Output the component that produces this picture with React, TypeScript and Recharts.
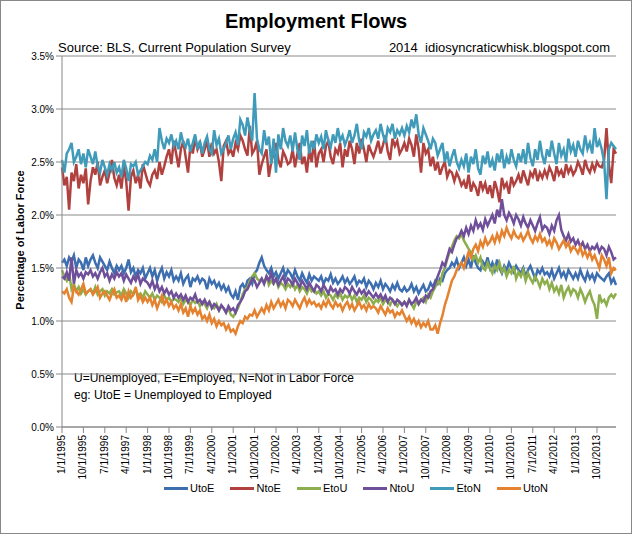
import React from "react";
import { LineChart, Line, XAxis, YAxis, CartesianGrid } from "recharts";

// values in hundredths of a percent of the labor force, monthly from Jan 1995
const UtoE = [
  155,158,152,160,156,162,150,158,155,148,160,152,
  158,162,155,150,160,156,152,148,156,150,145,152,
  148,152,145,150,158,146,150,142,148,145,150,140,
  145,150,142,148,138,145,150,140,146,142,148,138,
  142,138,145,135,140,143,132,140,138,142,136,140,
  138,130,140,135,138,132,136,130,134,128,132,125,
  122,128,120,132,135,130,138,140,135,145,148,155,
  160,152,148,145,150,142,146,140,145,150,142,148,
  145,140,148,142,138,145,140,136,144,138,142,140,
  138,142,135,140,138,144,136,140,135,138,142,136,
  140,135,138,142,134,138,136,140,132,138,135,130,
  136,132,138,130,135,132,128,134,130,136,130,128,
  132,128,130,135,128,132,126,130,134,128,130,136,
  132,138,135,140,138,145,148,150,155,152,158,150,
  155,160,152,158,150,162,155,150,148,156,152,160,
  150,155,148,158,150,145,152,148,155,150,146,152,
  148,145,150,142,148,152,146,140,148,145,150,144,
  146,142,148,140,145,150,142,146,140,148,144,140,
  145,140,148,142,138,146,140,144,138,145,142,140,
  138,142,145,136,140,134,
];
const NtoE = [
  245,228,236,205,240,232,248,225,238,230,244,210,
  232,245,238,250,228,236,242,230,240,252,235,228,
  238,225,246,232,204,236,242,230,238,225,248,240,
  232,228,238,242,234,250,238,246,255,262,248,270,
  258,245,262,270,255,240,266,258,272,262,268,255,
  262,270,255,268,258,262,250,232,265,270,258,262,
  255,268,262,275,270,262,256,284,258,262,270,238,
  248,255,262,236,250,258,268,252,245,260,255,248,
  250,262,245,258,268,248,255,240,262,250,270,245,
  258,262,250,265,270,255,248,262,258,268,245,262,
  255,270,262,248,268,258,272,262,250,266,260,255,
  262,270,258,266,275,260,252,272,265,270,258,262,
  268,260,272,266,255,276,262,240,268,258,262,246,
  255,242,250,238,245,250,236,242,240,232,240,235,
  228,232,225,238,222,230,226,218,232,224,230,220,
  228,216,232,224,212,235,226,230,220,236,228,232,
  238,230,242,235,228,240,236,244,232,240,235,242,
  236,245,240,232,246,238,242,235,248,240,245,238,
  242,250,245,238,252,244,240,248,242,250,246,245,
  252,282,248,230,262,258,
];
const EtoU = [
  148,142,138,145,130,135,128,132,126,130,125,128,
  130,126,132,125,128,130,124,128,126,130,125,127,
  128,124,130,126,122,128,125,130,124,126,122,128,
  125,122,126,120,124,122,118,124,120,122,118,121,
  120,118,122,116,120,118,115,120,117,119,114,118,
  116,112,118,114,112,116,110,114,112,108,112,106,
  104,108,112,118,125,130,132,138,142,145,140,138,
  140,136,142,134,138,135,140,132,136,134,130,135,
  132,136,130,134,128,132,130,126,132,128,130,126,
  128,124,128,122,126,124,120,125,122,126,120,124,
  122,125,120,124,118,122,120,124,118,122,120,116,
  120,118,122,116,120,118,115,120,117,114,118,115,
  118,115,120,116,112,118,116,120,122,118,125,122,
  128,132,138,135,145,150,158,165,170,176,180,178,
  182,176,172,168,165,158,162,155,160,150,148,155,
  150,145,152,148,155,146,150,142,148,145,152,140,
  146,142,148,138,145,140,136,142,138,132,140,135,
  138,130,136,128,132,126,134,122,128,132,125,130,
  128,122,130,125,118,124,128,120,115,102,125,118,
  120,115,122,125,122,126,
];
const NtoU = [
  142,140,146,138,160,135,148,142,145,140,146,144,
  148,142,145,140,146,150,142,145,138,144,140,146,
  142,145,138,144,140,136,142,138,144,135,140,138,
  136,132,138,130,135,128,132,126,130,125,128,122,
  126,122,125,120,124,118,122,120,125,118,120,116,
  120,115,118,112,116,114,110,115,112,108,114,110,
  112,108,115,118,122,128,130,135,140,138,132,136,
  140,135,142,138,145,136,140,134,138,142,135,140,
  138,134,140,136,132,138,134,130,136,132,128,134,
  132,128,134,130,126,132,128,130,125,130,127,132,
  130,126,132,128,125,130,126,129,124,128,125,122,
  126,122,125,120,124,118,122,120,116,120,118,115,
  118,114,120,116,118,122,116,120,118,124,122,128,
  130,136,142,148,155,152,160,168,165,172,178,180,
  185,180,188,182,190,185,195,188,192,186,196,190,
  195,200,192,205,198,215,200,195,202,198,192,200,
  196,190,198,192,188,195,190,185,192,198,186,190,
  188,182,190,185,195,200,186,180,176,182,175,178,
  172,176,170,174,168,172,166,170,168,172,165,170,
  168,162,170,165,158,160,
];
const EtoN = [
  252,240,258,262,268,250,255,262,248,258,245,262,
  255,248,260,246,240,252,245,238,248,242,250,240,
  245,236,252,244,232,248,246,250,238,242,246,250,
  248,256,252,262,250,282,270,262,272,268,276,265,
  270,262,278,268,264,272,260,268,276,262,270,258,
  268,274,262,258,280,266,272,258,262,268,275,262,
  272,278,266,290,285,275,292,280,270,315,272,262,
  258,280,266,274,248,272,240,276,262,282,270,265,
  275,260,278,262,252,275,265,280,258,270,262,276,
  268,274,262,280,270,264,276,268,282,270,275,266,
  272,280,268,275,286,270,262,278,274,282,270,276,
  280,272,286,276,268,282,278,286,272,280,276,282,
  275,284,278,290,282,295,276,268,282,276,270,262,
  272,268,256,262,268,250,260,246,255,262,250,244,
  252,246,258,240,255,248,262,244,238,256,248,260,
  245,252,242,258,250,262,244,255,248,262,252,246,
  258,250,262,248,268,254,246,262,252,270,256,248,
  262,255,270,258,248,268,256,262,250,272,260,266,
  255,270,262,258,275,262,268,258,282,264,270,262,
  250,215,262,268,265,262,
];
const UtoN = [
  128,126,130,122,118,132,128,125,130,135,126,128,
  130,125,128,132,122,126,128,124,120,126,130,122,
  124,120,126,118,128,122,125,132,120,124,118,122,
  118,122,115,120,112,118,124,116,120,114,118,112,
  115,110,116,108,112,104,114,108,112,106,110,102,
  105,100,106,98,102,95,100,96,98,92,96,90,
  92,88,95,100,98,104,102,106,105,110,104,108,
  112,108,115,110,118,112,116,120,114,118,112,120,
  118,114,120,116,112,118,122,115,120,116,118,114,
  116,112,118,114,120,115,112,118,114,116,110,115,
  118,112,116,110,114,118,112,115,110,116,112,114,
  112,108,114,110,106,112,108,110,104,108,106,110,
  105,100,104,98,102,96,100,94,98,95,100,92,
  92,96,88,98,105,115,122,130,138,142,148,152,
  155,150,158,165,160,168,172,166,175,170,178,172,
  175,180,174,182,176,185,180,188,182,178,185,180,
  178,182,176,180,185,178,174,180,176,182,175,178,
  172,176,170,178,174,168,172,176,170,174,166,170,
  168,164,170,162,166,160,165,158,162,156,150,162,
  158,152,160,145,150,148,
];
const yTicks = [0, 0.5, 1, 1.5, 2, 2.5, 3, 3.5];

const SERIES = [
  { key: "UtoE", color: "#3d6eb0" },
  { key: "NtoE", color: "#b0413e" },
  { key: "EtoU", color: "#8dae4c" },
  { key: "NtoU", color: "#6f4f9a" },
  { key: "EtoN", color: "#3f9bb9" },
  { key: "UtoN", color: "#e5822f" },
];

const data = UtoE.map((_, i) => ({
  date: `${(i % 12) + 1}/1/${1995 + Math.floor(i / 12)}`,
  UtoE: UtoE[i] / 100,
  NtoE: NtoE[i] / 100,
  EtoU: EtoU[i] / 100,
  NtoU: NtoU[i] / 100,
  EtoN: EtoN[i] / 100,
  UtoN: UtoN[i] / 100,
}));

const font = "'Liberation Sans', Arial, sans-serif";

export default function App() {
  return (
    <div style={{ position: "absolute", left: 0, top: 0, width: 632, height: 534, background: "#fff", fontFamily: font }}>
      <div style={{ position: "absolute", left: 0, top: 0, width: 630, height: 532, border: "1px solid #888" }} />
      <div style={{ position: "absolute", top: 10, width: 632, textAlign: "center", fontSize: 20, fontWeight: "bold" }}>
        Employment Flows
      </div>
      <div style={{ position: "absolute", top: 40, left: 58, fontSize: 13 }}>Source: BLS, Current Population Survey</div>
      <div style={{ position: "absolute", top: 40, right: 22, fontSize: 13 }}>2014&nbsp;&nbsp;idiosyncraticwhisk.blogspot.com</div>
      <div
        style={{
          position: "absolute", left: 20, top: 240, fontSize: 11, fontWeight: "bold",
          transform: "translate(-50%, -50%) rotate(-90deg)", whiteSpace: "nowrap",
        }}
      >
        Percentage of Labor Force
      </div>
      <div style={{ position: "absolute", left: 74, top: 370, fontSize: 12, lineHeight: "17px" }}>
        U=Unemployed, E=Employed, N=Not in Labor Force
        <br />
        eg: UtoE = Unemployed to Employed
      </div>
      <LineChart
        width={632}
        height={534}
        data={data}
        margin={{ top: 56, right: 16, bottom: 0, left: 0 }}
        style={{ position: "absolute", left: 0, top: 0 }}
      >
        <CartesianGrid horizontal vertical={false} stroke="#8a8a8a" />
        <XAxis
          dataKey="date"
          interval={8}
          angle={-90}
          textAnchor="end"
          height={107}
          tick={{ fontSize: 10, fill: "#000", dx: -4 }}
          tickLine={{ stroke: "#888" }}
          axisLine={{ stroke: "#888" }}
        />
        <YAxis
          domain={[0, 3.5]}
          ticks={yTicks}
          width={62}
          tickFormatter={(v: number) => v.toFixed(1) + "%"}
          tick={{ fontSize: 10, fill: "#000" }}
          tickLine={{ stroke: "#888" }}
          axisLine={{ stroke: "#888" }}
          allowDataOverflow
        />
        {SERIES.map((s) => (
          <Line
            key={s.key}
            dataKey={s.key}
            stroke={s.color}
            strokeWidth={2.5}
            dot={false}
            type="linear"
            isAnimationActive={false}
          />
        ))}
      </LineChart>
      <div
        style={{
          position: "absolute", top: 482, left: 40, width: 632, display: "flex",
          justifyContent: "center", gap: 16, fontSize: 11,
        }}
      >
        {SERIES.map((s) => (
          <span key={s.key} style={{ display: "flex", alignItems: "center" }}>
            <span style={{ display: "inline-block", width: 24, height: 3, background: s.color, marginRight: 2 }} />
            {s.key}
          </span>
        ))}
      </div>
    </div>
  );
}
